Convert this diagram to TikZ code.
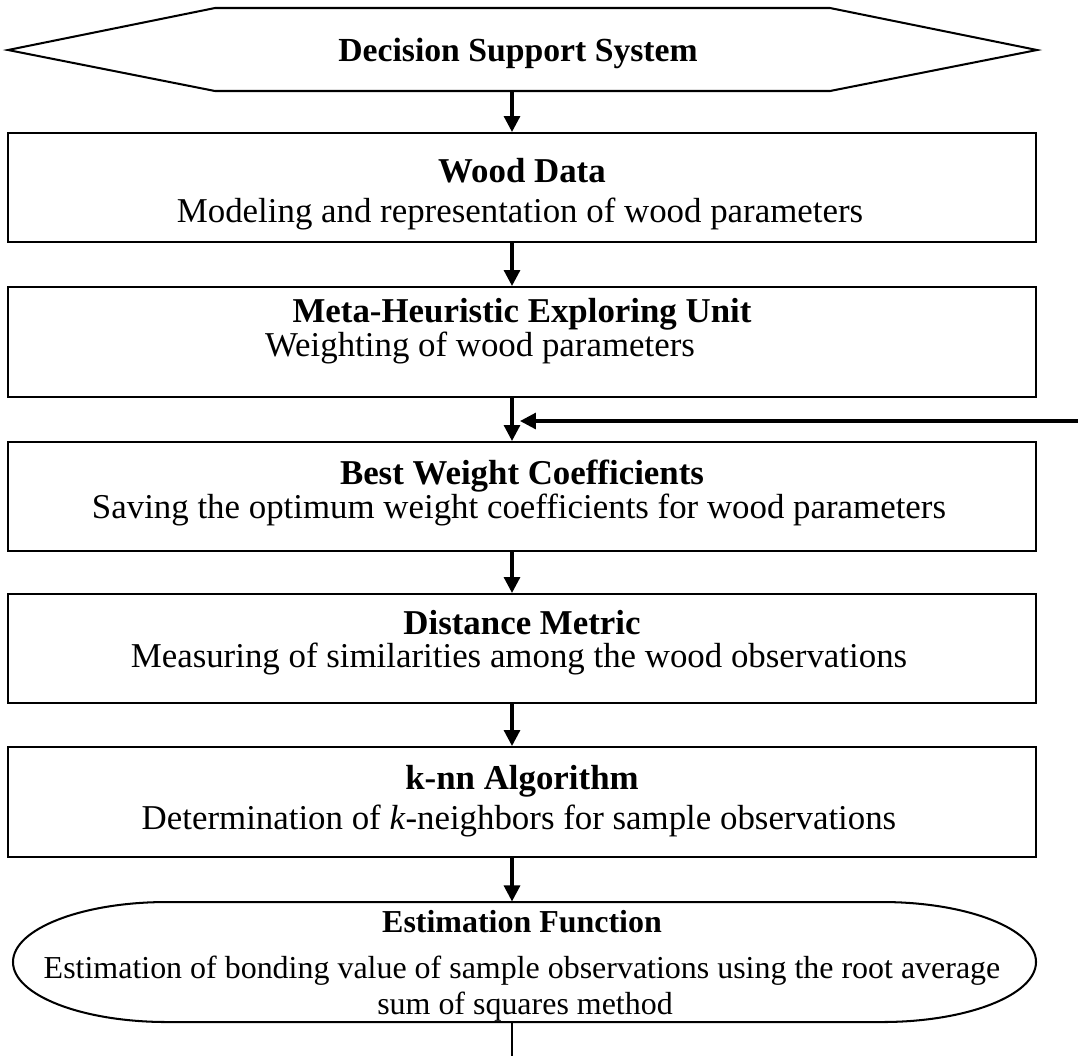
\documentclass[tikz,border=0pt]{standalone}
\usepackage{fontspec}
\setmainfont{Liberation Serif}
\usetikzlibrary{arrows.meta,fit}
\tikzset{
  box/.style={draw, line width=0.7pt, inner sep=0pt},
  flow/.style={line width=1.1pt, -{Triangle[length=5.5pt,width=5.5pt]}},
  head/.style={font=\fontsize{12}{14}\selectfont\bfseries, anchor=base, inner sep=0pt},
  desc/.style={font=\fontsize{12}{14}\selectfont, anchor=base, inner sep=0pt},
  headsmall/.style={head, font=\fontsize{11}{13}\selectfont\bfseries},
  descsmall/.style={desc, font=\fontsize{11}{13}\selectfont}
}
\begin{document}
\begin{tikzpicture}[x=0.0121cm, y=0.0121cm]
\useasboundingbox (0,0) rectangle (1078,-1056);
\coordinate (ax) at (512,0);
% top shape
\draw [line width=0.7pt] (8,-50) -- (215,-8) -- (830,-8) -- (1037,-50) -- (830,-91) -- (215,-91) -- cycle;
\coordinate (dssbot) at (512,-91);
\node [headsmall, font=\fontsize{11.6}{13}\selectfont\bfseries] (dss) at (518,-61) {Decision Support System};
% boxes
\node [box, fit={(8,-133) (1036,-242)}] (wood) {};
\node [box, fit={(8,-287) (1036,-397)}] (meta) {};
\node [box, fit={(8,-442) (1036,-551)}] (best) {};
\node [box, fit={(8,-594) (1036,-703)}] (dist) {};
\node [box, fit={(8,-747) (1036,-857)}] (knn) {};
\node [fit={(13,-902) (1036,-1022)}, inner sep=0pt] (est) {};
\draw [line width=0.7pt] (167,-902) -- (882,-902) arc[start angle=90, end angle=-90, x radius=154, y radius=60]
  -- (167,-1022) arc[start angle=270, end angle=90, x radius=154, y radius=60] -- cycle;
% texts
\node [head] (woodT) at (522,-182) {Wood Data};
\node [desc] (woodD) at (520,-222) {Modeling and representation of wood parameters};
\node [head] (metaT) at (522,-322) {Meta-Heuristic Exploring Unit};
\node [desc] (metaD) at (480,-356) {Weighting of wood parameters};
\node [head] (bestT) at (522,-484) {Best Weight Coefficients};
\node [desc] (bestD) at (519,-518) {Saving the optimum weight coefficients for wood parameters};
\node [head] (distT) at (522,-634) {Distance Metric};
\node [desc] (distD) at (519,-667) {Measuring of similarities among the wood observations};
\node [head] (knnT) at (522,-789) {k-nn Algorithm};
\node [desc] (knnD) at (519,-829) {Determination of \textit{k}-neighbors for sample observations};
\node [headsmall] (estT) at (522,-932) {Estimation Function};
\node [descsmall] (estD1) at (522,-978) {Estimation of bonding value of sample observations using the root average};
\node [descsmall] (estD2) at (525,-1014) {sum of squares method};
% arrows
\coordinate (fbin) at (1078,-421);
\coordinate (fbtip) at (520,-421);
\coordinate (out) at (512,-1056);
\draw [flow] (dssbot) -- (wood.north -| ax);
\draw [flow] (wood.south -| ax) -- (meta.north -| ax);
\draw [flow] (meta.south -| ax) -- (best.north -| ax);
\draw [flow] (fbin) -- (fbtip);
\draw [flow] (best.south -| ax) -- (dist.north -| ax);
\draw [flow] (dist.south -| ax) -- (knn.north -| ax);
\draw [flow] (knn.south -| ax) -- (est.north -| ax);
\draw [line width=0.5pt] (est.south -| ax) -- (out);
\end{tikzpicture}
\end{document}
